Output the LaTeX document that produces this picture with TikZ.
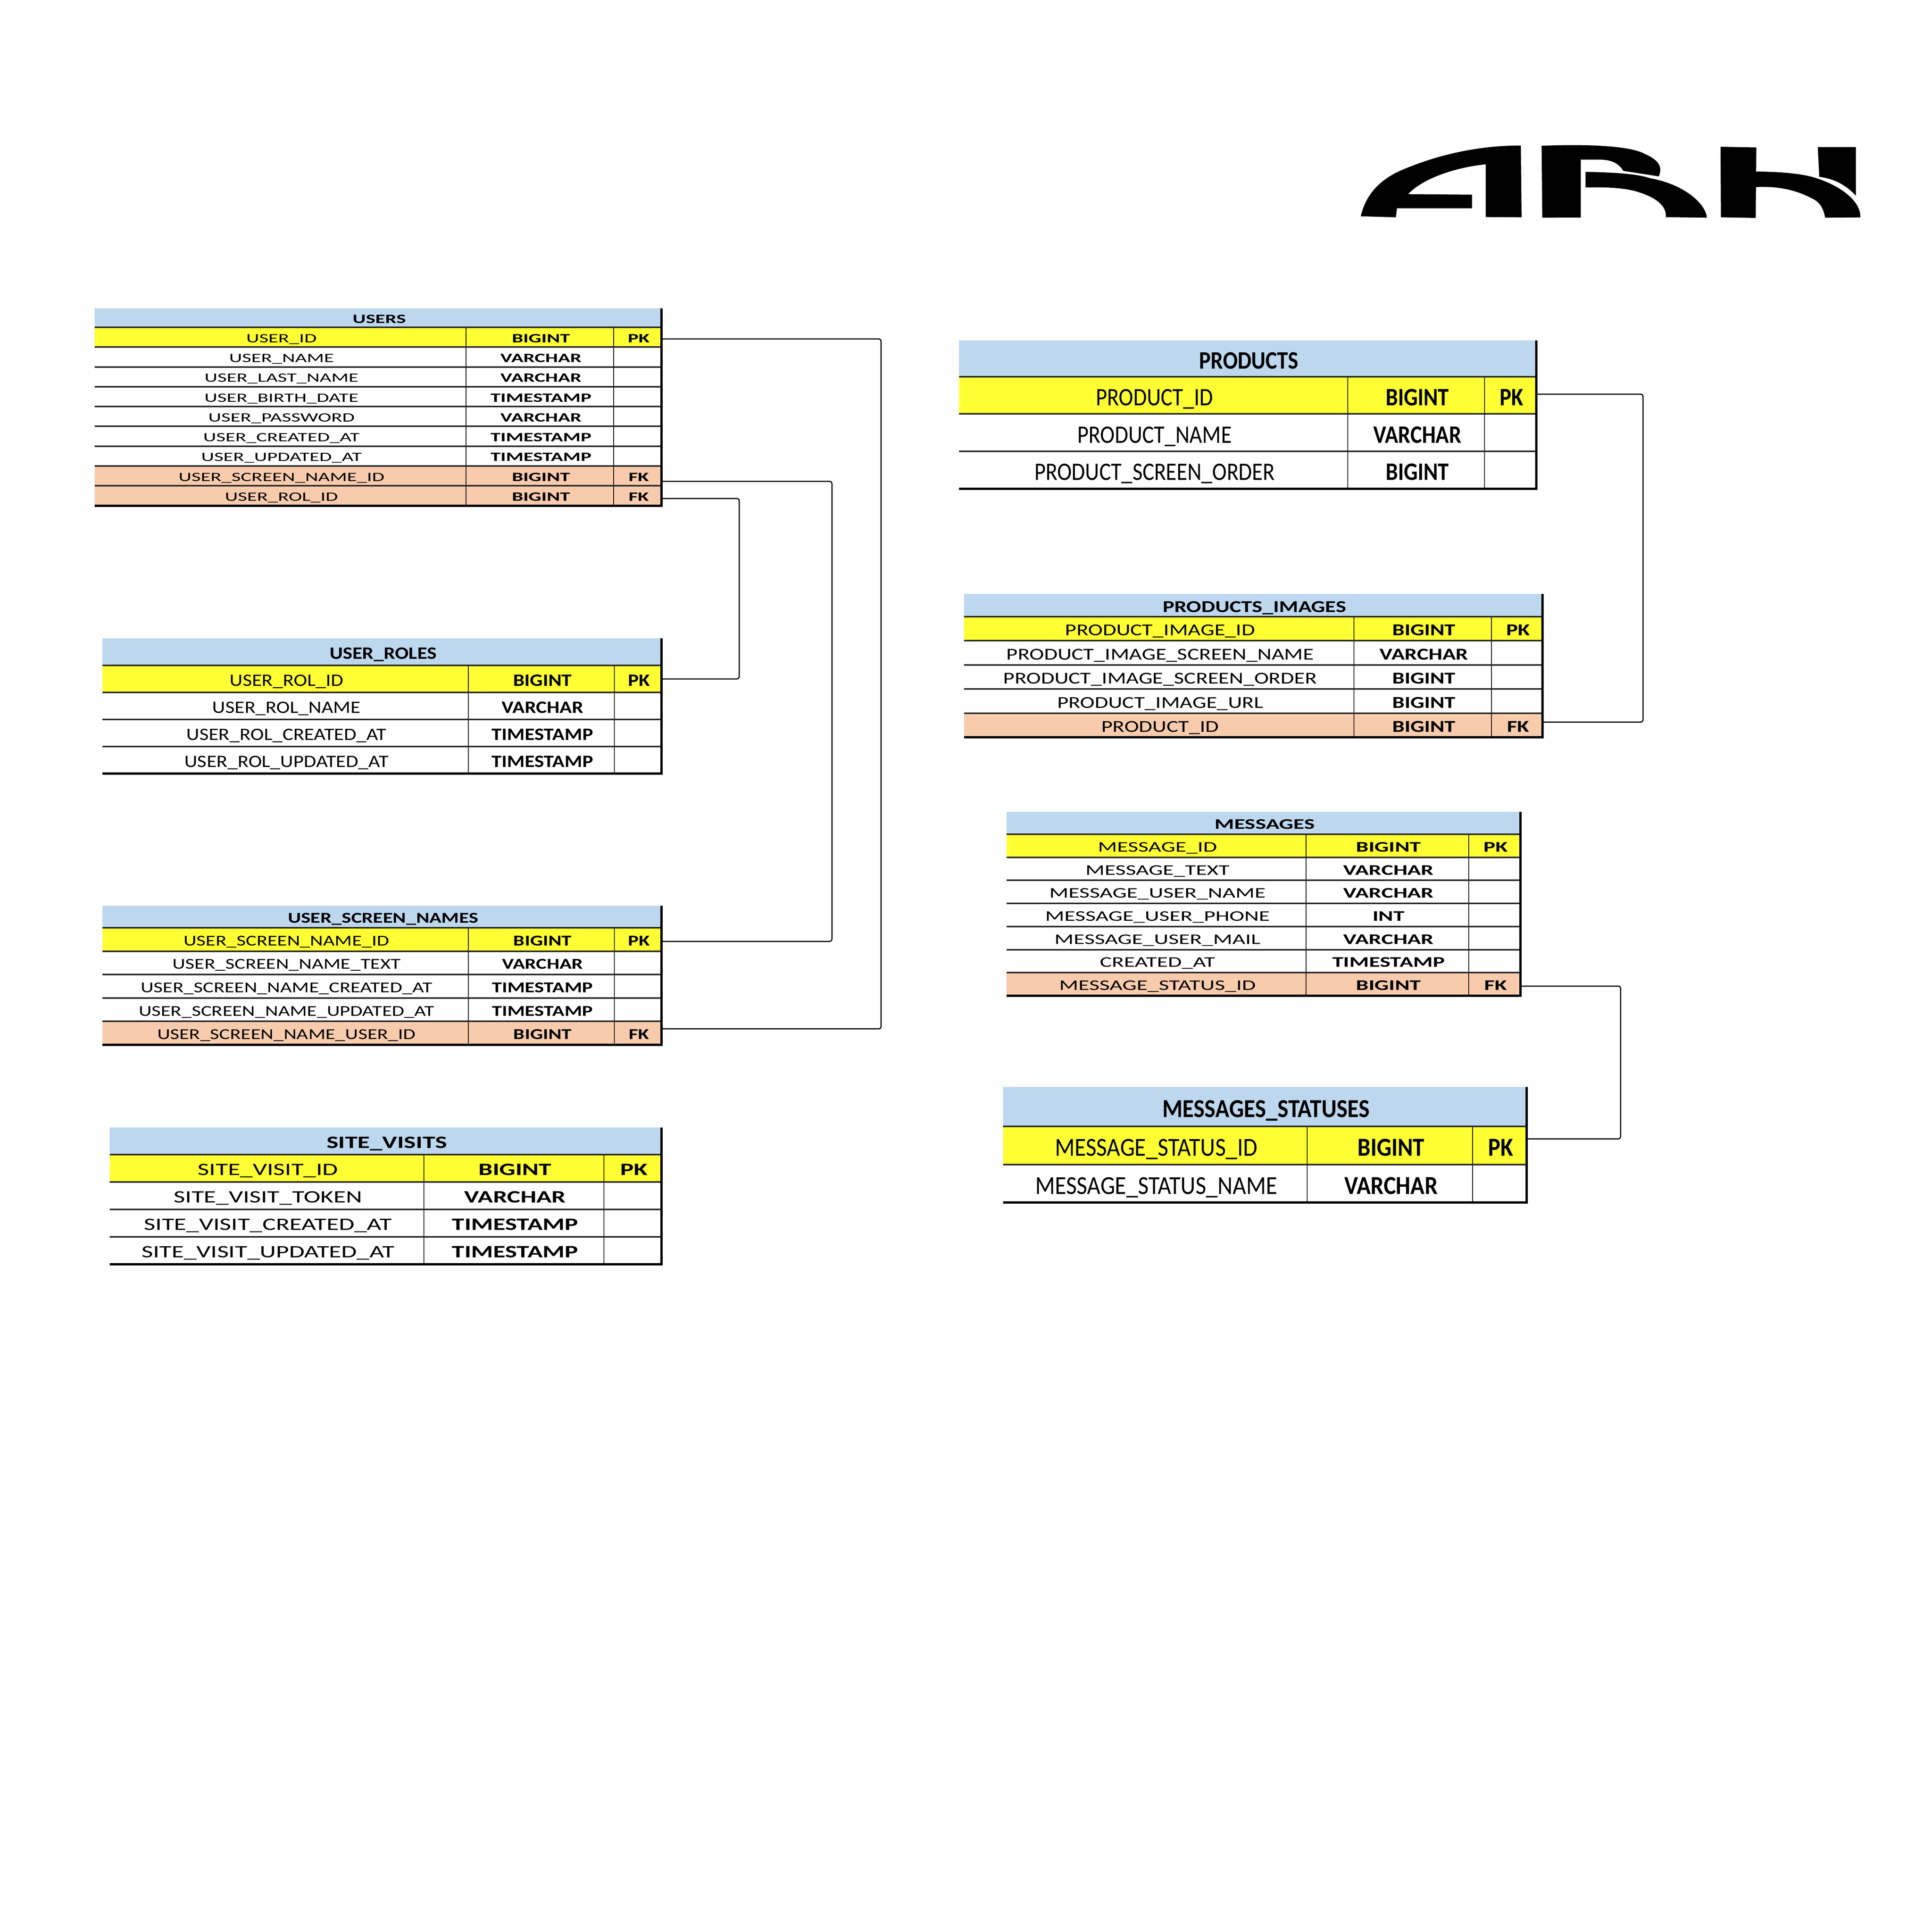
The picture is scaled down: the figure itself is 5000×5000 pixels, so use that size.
\documentclass[tikz,border=0pt]{standalone}
\usepackage{fontspec}
\usepackage{graphicx}
\setmainfont{Carlito}
\definecolor{hdr}{HTML}{BDD7EE}
\definecolor{keyrow}{HTML}{FFFF33}
\definecolor{fkrow}{HTML}{F8CBAD}
\definecolor{plain}{HTML}{FFFFFF}
\tikzset{
  cellbox/.style={inner sep=0pt,outer sep=0pt,draw=none,text=black,align=center},
  gridh/.style={line width=0.4pt,black!85},
  gridv/.style={line width=0.25pt,black},
  gridout/.style={line width=0.6pt,black},
  conn/.style={line width=0.3pt,black,rounded corners=0.6pt},
  logo/.style={fill=black,draw=none}
}
% \ertable{name}{x0,x1,x2,x3}{top,head,rowh}{font,xscale}{title}{rows}
\newcommand\ertable[6]{%
  \def\tabn{#1}%
  \foreach \xa/\xb/\xc/\xd in {#2}{%
  \foreach \yt/\yh/\rh in {#3}{%
  \foreach \fs/\xs in {#4}{%
    \pgfmathsetmacro{\fsh}{0.82*\fs}%
    \pgfmathsetmacro{\ttw}{(\xd-\xa)*0.1}%
    \pgfmathsetmacro{\tth}{(\yh-\yt)*0.1}%
    \pgfmathsetmacro{\ttx}{(\xa+\xd)/2}%
    \pgfmathsetmacro{\tty}{(\yt+\yh)/2}%
    \node[cellbox,fill=hdr,minimum width=\ttw pt,minimum height=\tth pt,text height=\fsh pt,text depth=0pt]
      (\tabn-title) at (\ttx,\tty) {\hspace{0.6pt}\fontsize{\fs}{\fs}\selectfont\bfseries\scalebox{\xs}[1]{#5}};
    \foreach \kind/\ca/\cb/\cc [count=\r] in {#6}{%
      \pgfmathsetmacro{\ycen}{\yh+(\r-0.5)*\rh}%
      \pgfmathsetmacro{\rhp}{\rh*0.1}%
      \pgfmathsetmacro{\wa}{(\xb-\xa)*0.1}\pgfmathsetmacro{\xca}{(\xa+\xb)/2}%
      \pgfmathsetmacro{\wb}{(\xc-\xb)*0.1}\pgfmathsetmacro{\xcb}{(\xb+\xc)/2}%
      \pgfmathsetmacro{\wc}{(\xd-\xc)*0.1}\pgfmathsetmacro{\xcc}{(\xc+\xd)/2}%
      \node[cellbox,fill=\kind,minimum width=\wa pt,minimum height=\rhp pt,text height=\fsh pt,text depth=0pt]
        (\tabn-\r-a) at (\xca,\ycen) {\hspace{0.6pt}\fontsize{\fs}{\fs}\selectfont\scalebox{\xs}[1]{\ca}};
      \node[cellbox,fill=\kind,minimum width=\wb pt,minimum height=\rhp pt,text height=\fsh pt,text depth=0pt]
        (\tabn-\r-b) at (\xcb,\ycen) {\hspace{0.6pt}\fontsize{\fs}{\fs}\selectfont\bfseries\scalebox{\xs}[1]{\cb}};
      \node[cellbox,fill=\kind,minimum width=\wc pt,minimum height=\rhp pt,text height=\fsh pt,text depth=0pt]
        (\tabn-\r-c) at (\xcc,\ycen) {\hspace{0.6pt}\fontsize{\fs}{\fs}\selectfont\bfseries\scalebox{\xs}[1]{\cc}};
    }%
    \foreach \kind/\ca/\cb/\cc [count=\r] in {#6}{\global\let\nrows\r}%
    \pgfmathsetmacro{\ybot}{\yh+\nrows*\rh}%
    \draw[gridv] (\xb,\yh) -- (\xb,\ybot);
    \draw[gridv] (\xc,\yh) -- (\xc,\ybot);
    \draw[gridh] (\xa,\yh) -- (\xd,\yh);
    \foreach \q in {1,...,\nrows}{%
      \pgfmathsetmacro{\yl}{\yh+\q*\rh}%
      \draw[gridh] (\xa,\yl) -- (\xd,\yl);
    }%
    \draw[gridout] (\xd,\yt) -- (\xd,\ybot) -- (\xa,\ybot);
  }}}%
}
\begin{document}
\begin{tikzpicture}[x=0.1pt,y=-0.1pt]
\useasboundingbox (0,0) rectangle (5000,5000);
\fill[white] (0,0) rectangle (5000,5000);

% logo
\begin{scope}[shift={(3400,320)},x=0.0957pt,y=-0.0333pt]
\fill[logo] (127,720) .. controls (140,560) and (175,440) .. (237,362) .. controls (320,260) and (430,170) .. (560,170)
  -- (562,728) -- (465,726) -- (465,316) .. controls (370,345) and (290,440) .. (255,548)
  -- (428,552) -- (428,658) -- (225,658) -- (222,728) -- cycle;
\fill[logo] (616,172) .. controls (720,160) and (850,165) .. (895,235) .. controls (930,280) and (945,330) .. (933,410)
  -- (837,367) .. controls (825,310) and (805,280) .. (775,280) -- (722,280) -- (722,730) -- (618,731) -- cycle;
\fill[logo] (735,375) .. controls (830,380) and (880,395) .. (910,425) .. controls (1000,470) and (1060,620) .. (1063,731)
  -- (952,727) .. controls (955,640) and (925,570) .. (870,525) .. controls (830,495) and (780,493) .. (735,496) -- cycle;
\fill[logo] (1100,180) -- (1197,185) -- (1196,372) .. controls (1280,375) and (1330,395) .. (1360,425)
  .. controls (1430,490) and (1480,610) .. (1478,729) -- (1383,731) .. controls (1378,660) and (1370,610) .. (1345,578)
  .. controls (1300,510) and (1250,485) .. (1196,493) -- (1195,733) -- (1101,728) -- cycle;
\fill[logo] (1363,182) -- (1466,182) -- (1466,560) .. controls (1440,480) and (1410,430) .. (1367,413) -- cycle;
\end{scope}

\ertable{users}{245/1206/1588/1712}{798/847/51.3}{3.3/1.58}{USERS}{
  keyrow/USER\_ID/BIGINT/PK,
  plain/USER\_NAME/VARCHAR/{},
  plain/USER\_LAST\_NAME/VARCHAR/{},
  plain/USER\_BIRTH\_DATE/TIMESTAMP/{},
  plain/USER\_PASSWORD/VARCHAR/{},
  plain/USER\_CREATED\_AT/TIMESTAMP/{},
  plain/USER\_UPDATED\_AT/TIMESTAMP/{},
  fkrow/USER\_SCREEN\_NAME\_ID/BIGINT/FK,
  fkrow/USER\_ROL\_ID/BIGINT/FK}

\ertable{roles}{265/1212/1590/1712}{1652/1722/70}{4.5/1.165}{USER\_ROLES}{
  keyrow/USER\_ROL\_ID/BIGINT/PK,
  plain/USER\_ROL\_NAME/VARCHAR/{},
  plain/USER\_ROL\_CREATED\_AT/TIMESTAMP/{},
  plain/USER\_ROL\_UPDATED\_AT/TIMESTAMP/{}}

\ertable{names}{265/1212/1590/1712}{2344/2401/60.6}{3.9/1.335}{USER\_SCREEN\_NAMES}{
  keyrow/USER\_SCREEN\_NAME\_ID/BIGINT/PK,
  plain/USER\_SCREEN\_NAME\_TEXT/VARCHAR/{},
  plain/USER\_SCREEN\_NAME\_CREATED\_AT/TIMESTAMP/{},
  plain/USER\_SCREEN\_NAME\_UPDATED\_AT/TIMESTAMP/{},
  fkrow/USER\_SCREEN\_NAME\_USER\_ID/BIGINT/FK}

\ertable{visits}{284/1097/1563/1712}{2918/2988/71}{4.5/1.45}{SITE\_VISITS}{
  keyrow/SITE\_VISIT\_ID/BIGINT/PK,
  plain/SITE\_VISIT\_TOKEN/VARCHAR/{},
  plain/SITE\_VISIT\_CREATED\_AT/TIMESTAMP/{},
  plain/SITE\_VISIT\_UPDATED\_AT/TIMESTAMP/{}}

\ertable{products}{2482/3488/3842/3976}{881/975/96.5}{6.5/0.87}{PRODUCTS}{
  keyrow/PRODUCT\_ID/BIGINT/PK,
  plain/PRODUCT\_NAME/VARCHAR/{},
  plain/PRODUCT\_SCREEN\_ORDER/BIGINT/{}}

\ertable{images}{2495/3504/3860/3992}{1537/1596/62.4}{4.3/1.32}{PRODUCTS\_IMAGES}{
  keyrow/PRODUCT\_IMAGE\_ID/BIGINT/PK,
  plain/PRODUCT\_IMAGE\_SCREEN\_NAME/VARCHAR/{},
  plain/PRODUCT\_IMAGE\_SCREEN\_ORDER/BIGINT/{},
  plain/PRODUCT\_IMAGE\_URL/BIGINT/{},
  fkrow/PRODUCT\_ID/BIGINT/FK}

\ertable{messages}{2605/3380/3801/3935}{2101/2159/59.7}{3.8/1.53}{MESSAGES}{
  keyrow/MESSAGE\_ID/BIGINT/PK,
  plain/MESSAGE\_TEXT/VARCHAR/{},
  plain/MESSAGE\_USER\_NAME/VARCHAR/{},
  plain/MESSAGE\_USER\_PHONE/INT/{},
  plain/MESSAGE\_USER\_MAIL/VARCHAR/{},
  plain/CREATED\_AT/TIMESTAMP/{},
  fkrow/MESSAGE\_STATUS\_ID/BIGINT/FK}

\ertable{statuses}{2596/3383/3811/3951}{2813/2915/98.5}{6.7/0.895}{MESSAGES\_STATUSES}{
  keyrow/MESSAGE\_STATUS\_ID/BIGINT/PK,
  plain/MESSAGE\_STATUS\_NAME/VARCHAR/{}}

% bend columns of the connectors
\coordinate (busers) at (2280,1500);
\coordinate (bnames) at (2153,1500);
\coordinate (broles) at (1913,1500);
\coordinate (bprod) at (4252,1500);
\coordinate (bmsg) at (4194,2700);

\draw[conn] ([yshift=-0.45pt]users-1-c.east) -| (busers) |- ([yshift=1.1pt]names-5-c.east);
\draw[conn] ([yshift=-1.4pt]users-8-c.east) -| (bnames) |- ([yshift=-0.5pt]names-1-c.east);
\draw[conn] ([yshift=-0.7pt]users-9-c.east) -| (broles) |- (roles-1-c.east);
\draw[conn] ([yshift=0.3pt]products-1-c.east) -| (bprod) |- ([yshift=0.8pt]images-5-c.east);
\draw[conn] ([yshift=-0.5pt]messages-7-c.east) -| (bmsg) |- ([yshift=1.7pt]statuses-1-c.east);
\end{tikzpicture}
\end{document}
